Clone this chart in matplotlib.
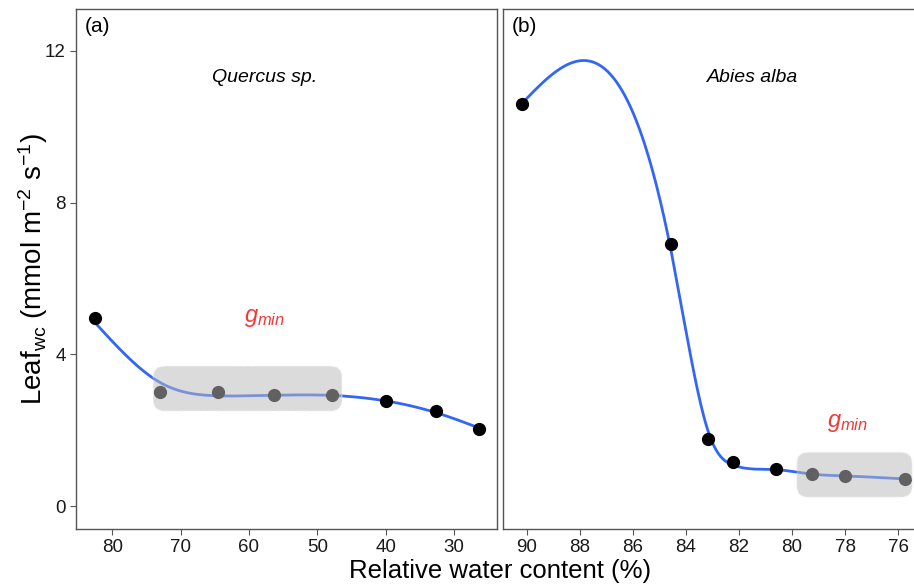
import matplotlib
matplotlib.use('Agg')
import matplotlib.pyplot as plt
from matplotlib.patches import FancyBboxPatch
from matplotlib.transforms import IdentityTransform
import numpy as np

# Data
# (a) Quercus sp.
rwc_a = [82.5, 73.0, 64.5, 56.4, 47.9, 39.9, 32.6, 26.4]
lwc_a = [4.96, 3.01, 3.01, 2.93, 2.93, 2.77, 2.51, 2.03]
# (b) Abies alba
rwc_b = [90.18, 84.58, 83.16, 82.22, 80.62, 79.26, 78.0, 75.74]
lwc_b = [10.61, 6.90, 1.76, 1.17, 0.98, 0.84, 0.80, 0.72]

# g_min regions (x0, x1, y0, y1)
gmin_a = (74.0, 46.4, 2.51, 3.69)
gmin_b = (79.82, 75.47, 0.24, 1.42)

xticks_a = [80, 70, 60, 50, 40, 30]
xticks_b = [90, 88, 86, 84, 82, 80, 78, 76]
yticks = [0, 4, 8, 12]

plt.rcParams['font.family'] = ['Liberation Sans', 'DejaVu Sans']
plt.rcParams['mathtext.fontset'] = 'custom'
plt.rcParams['mathtext.rm'] = 'Liberation Sans'
plt.rcParams['mathtext.it'] = 'Liberation Sans:italic'

BLUE = '#3366f5'
RED = '#f03a3a'
SPINE = '#555555'


def smooth_spline(x, y, lam, n=400):
    # cubic smoothing spline (Reinsch)
    x = np.asarray(x, float); y = np.asarray(y, float)
    o = np.argsort(x); x = x[o]; y = y[o]
    N = len(x); h = np.diff(x)
    Q = np.zeros((N, N - 2)); R = np.zeros((N - 2, N - 2))
    for j in range(1, N - 1):
        Q[j - 1, j - 1] = 1 / h[j - 1]
        Q[j, j - 1] = -1 / h[j - 1] - 1 / h[j]
        Q[j + 1, j - 1] = 1 / h[j]
        R[j - 1, j - 1] = (h[j - 1] + h[j]) / 3
        if j < N - 2:
            R[j - 1, j] = R[j, j - 1] = h[j] / 6
    gam = np.linalg.solve(R + lam * Q.T @ Q, Q.T @ y)
    g = y - lam * Q @ gam
    gam = np.r_[0, gam, 0]
    xs = np.linspace(x[0], x[-1], n)
    i = np.clip(np.searchsorted(x, xs) - 1, 0, N - 2)
    a = xs - x[i]; b = x[i + 1] - xs; hh = h[i]
    f = (a * g[i + 1] + b * g[i]) / hh - a * b / 6 * ((1 + a / hh) * gam[i + 1] + (1 + b / hh) * gam[i])
    return xs, f


def style(ax):
    for s in ax.spines.values():
        s.set_color(SPINE)
        s.set_linewidth(1.0)
    ax.tick_params(direction='out', length=4, width=0.8, color=SPINE,
                   labelsize=13.5, labelcolor='#1a1a1a', pad=3.5)


def add_box(ax, box, r=11):
    # rounded, semi-transparent box (drawn in pixels so corners stay round)
    p0 = ax.transData.transform((box[0], box[2]))
    p1 = ax.transData.transform((box[1], box[3]))
    lx, rx = sorted([p0[0], p1[0]])
    ly, uy = sorted([p0[1], p1[1]])
    ax.add_patch(FancyBboxPatch((lx, ly), rx - lx, uy - ly,
                                boxstyle='round,pad=0,rounding_size=%d' % r,
                                transform=IdentityTransform(),
                                fc='#bbbbbb', ec='#f2f2f2', lw=1.0, ls='--',
                                alpha=0.52, zorder=4))


fig = plt.figure(figsize=(9.14, 5.85), dpi=100)
ax1 = fig.add_axes([0.0832, 0.0957, 0.4606, 0.8889])
ax2 = fig.add_axes([0.5507, 0.0957, 0.4493, 0.8889])

# Panel (a)
ax1.set_xlim(85.3, 23.7)
ax1.set_ylim(-0.6, 13.1)
xs, f = smooth_spline(rwc_a, lwc_a, 60)
ax1.plot(xs, f, color=BLUE, lw=2.0, zorder=2)
ax1.plot(rwc_a, lwc_a, 'o', color='black', ms=8.5, zorder=3)
add_box(ax1, gmin_a)
ax1.text(57.7, 4.96, r'$g_{min}$', color=RED, fontsize=17, ha='center', va='center')
ax1.text(57.7, 11.3, 'Quercus sp.', style='italic', fontsize=14, ha='center', va='center')
ax1.text(0.02, 0.985, '(a)', transform=ax1.transAxes, fontsize=15, va='top', ha='left')
ax1.set_xticks(xticks_a)
ax1.set_yticks(yticks)
style(ax1)
ax1.set_ylabel(r'Leaf$_{\mathrm{wc}}$ (mmol m$^{-2}$ s$^{-1}$)', fontsize=20)
ax1.yaxis.set_label_coords(-0.062, 0.5)

# Panel (b)
ax2.set_xlim(90.89, 75.4)
ax2.set_ylim(-0.6, 13.1)
xs, f = smooth_spline(rwc_b, lwc_b, 0.03)
ax2.plot(xs, f, color=BLUE, lw=2.0, zorder=2)
ax2.plot(rwc_b, lwc_b, 'o', color='black', ms=8.5, zorder=3)
add_box(ax2, gmin_b)
ax2.text(77.9, 2.2, r'$g_{min}$', color=RED, fontsize=17, ha='center', va='center')
ax2.text(81.5, 11.3, 'Abies alba', style='italic', fontsize=14, ha='center', va='center')
ax2.text(0.02, 0.985, '(b)', transform=ax2.transAxes, fontsize=15, va='top', ha='left')
ax2.set_xticks(xticks_b)
ax2.set_yticks([])
ax2.spines['right'].set_visible(False)
style(ax2)

fig.text(0.5476, 0.012, 'Relative water content (%)', fontsize=18.5, ha='center', va='baseline')

fig.savefig('out.png', dpi=100)
